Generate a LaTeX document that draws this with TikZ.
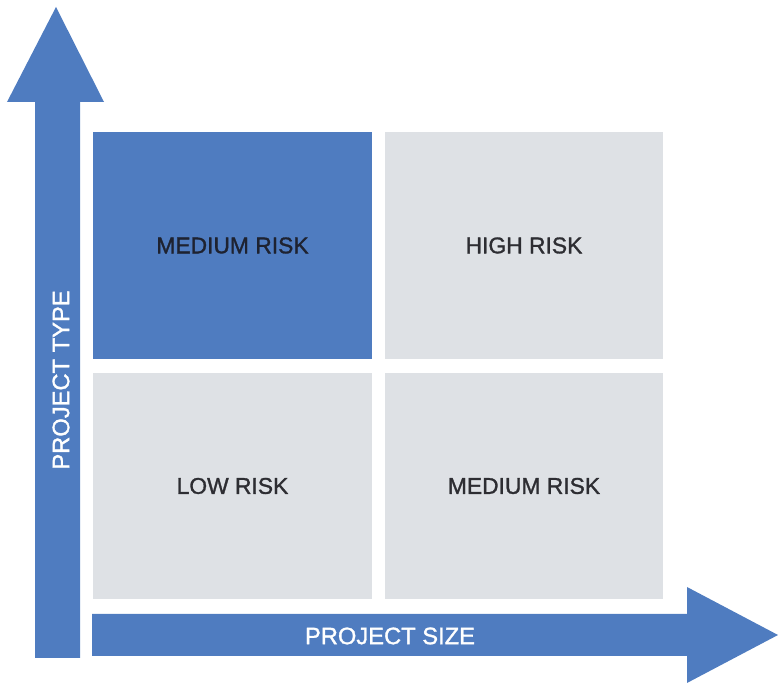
\documentclass[tikz,border=0pt]{standalone}
\usepackage{fontspec}
\setmainfont{Liberation Sans}
\newfontfamily\riskfont[FakeBold=1.3]{Liberation Sans}
\definecolor{riskblue}{RGB}{79,124,192}
\definecolor{riskgrey}{RGB}{222,225,229}
\definecolor{riskdark}{RGB}{30,34,48}
\definecolor{riskink}{RGB}{45,45,50}
\tikzset{
  quad/.style={rectangle, minimum width=5.58cm, minimum height=4.54cm, inner sep=0pt, font=\riskfont\fontsize{13}{15}\selectfont},
  axislabel/.style={text=white, font=\riskfont\fontsize{13.5}{15}\selectfont}
}
\begin{document}
\begin{tikzpicture}[x=0.02cm, y=-0.02cm]
                        \useasboundingbox (0,0) rectangle (779,685);
                        % axes
                        \fill[riskblue] (35,658) -- (35,102) -- (7,102) -- (56,7) -- (104,102) -- (80,102) -- (80,658) -- cycle;
                        \fill[riskblue] (92,614) -- (687,614) -- (687,587) -- (778,635) -- (687,683) -- (687,656) -- (92,656) -- cycle;
                        \node[axislabel, rotate=90] (type) at (61,380) {PROJECT TYPE};
                        \node[axislabel] (size) at (390,636) {PROJECT SIZE};
                        % risk quadrants
                        \node[quad, fill=riskblue, text=riskdark] (tl) at (232.5,245.5) {MEDIUM RISK};
                        \node[quad, fill=riskgrey, text=riskink] (tr) at (524,245.5) {HIGH RISK};
                        \node[quad, fill=riskgrey, text=riskink] (bl) at (232.5,486) {LOW RISK};
                        \node[quad, fill=riskgrey, text=riskink] (br) at (524,486) {MEDIUM RISK};
                    \end{tikzpicture}
\end{document}
